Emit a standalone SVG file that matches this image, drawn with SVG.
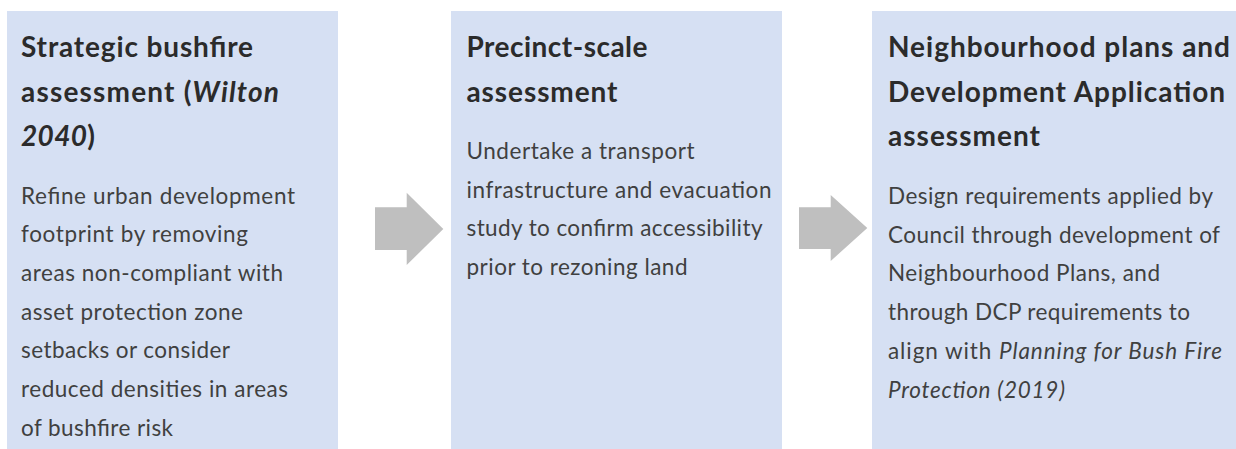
<svg xmlns="http://www.w3.org/2000/svg" width="1236" height="449" viewBox="0 0 1236 449">
<style>
.box{fill:#D6E0F3}
.title{font-family:Lato,"Open Sans","Liberation Sans",sans-serif;font-weight:bold;font-size:28px;fill:#2B2B2B}
.body{font-family:Lato,"Open Sans","Liberation Sans",sans-serif;font-size:22.5px;fill:#404040}
.it{font-style:italic}
.arrow{fill:#BFBFBF}
</style>
<rect x="0" y="0" width="1236" height="449" fill="#FFFFFF"/>
<g id="node-strategic">
<rect class="box" x="7" y="11" width="331" height="438"/>
<text class="title" x="21" y="57" textLength="232" lengthAdjust="spacing">Strategic bushfire</text>
<text class="title" x="21" y="101.5" textLength="258" lengthAdjust="spacing">assessment (<tspan class="it">Wilton</tspan></text>
<text class="title" x="21" y="146" textLength="74" lengthAdjust="spacing"><tspan class="it">2040</tspan>)</text>
<text class="body" x="21" y="203.5" textLength="274" lengthAdjust="spacing">Refine urban development</text>
<text class="body" x="21" y="242.2" textLength="227" lengthAdjust="spacing">footprint by removing</text>
<text class="body" x="21" y="280.9" textLength="262" lengthAdjust="spacing">areas non-compliant with</text>
<text class="body" x="21" y="319.6" textLength="222" lengthAdjust="spacing">asset protection zone</text>
<text class="body" x="21" y="358.3" textLength="209" lengthAdjust="spacing">setbacks or consider</text>
<text class="body" x="21" y="397" textLength="267" lengthAdjust="spacing">reduced densities in areas</text>
<text class="body" x="21" y="435.7" textLength="152" lengthAdjust="spacing">of bushfire risk</text>
</g>
<g id="node-precinct">
<rect class="box" x="451" y="11" width="331" height="438"/>
<text class="title" x="466.5" y="57" textLength="181" lengthAdjust="spacing">Precinct-scale</text>
<text class="title" x="466.5" y="101.5" textLength="151" lengthAdjust="spacing">assessment</text>
<text class="body" x="466.5" y="159" textLength="228" lengthAdjust="spacing">Undertake a transport</text>
<text class="body" x="466.5" y="197.7" textLength="305" lengthAdjust="spacing">infrastructure and evacuation</text>
<text class="body" x="466.5" y="236.4" textLength="296" lengthAdjust="spacing">study to confirm accessibility</text>
<text class="body" x="466.5" y="275.1" textLength="221" lengthAdjust="spacing">prior to rezoning land</text>
</g>
<g id="node-neighbourhood">
<rect class="box" x="872" y="11" width="364" height="438"/>
<text class="title" x="888" y="57" textLength="342" lengthAdjust="spacing">Neighbourhood plans and</text>
<text class="title" x="888" y="101.5" textLength="337" lengthAdjust="spacing">Development Application</text>
<text class="title" x="888" y="146" textLength="152" lengthAdjust="spacing">assessment</text>
<text class="body" x="888" y="204" textLength="325" lengthAdjust="spacing">Design requirements applied by</text>
<text class="body" x="888" y="242.7" textLength="332" lengthAdjust="spacing">Council through development of</text>
<text class="body" x="888" y="281.4" textLength="272" lengthAdjust="spacing">Neighbourhood Plans, and</text>
<text class="body" x="888" y="320.1" textLength="302" lengthAdjust="spacing">through DCP requirements to</text>
<text class="body" x="888" y="358.8" textLength="334" lengthAdjust="spacing">align with <tspan class="it">Planning for Bush Fire</tspan></text>
<text class="body it" x="888" y="397.5" textLength="177" lengthAdjust="spacing">Protection (2019)</text>
</g>
<g id="connectors">
<polygon class="arrow" points="375,207.3 406.7,207.3 406.7,192.7 443.3,229 406.7,265 406.7,250 375,250"/>
<polygon class="arrow" points="799,207.3 830.7,207.3 830.7,195 867.3,228 830.7,261 830.7,249 799,249"/>
</g>
</svg>
